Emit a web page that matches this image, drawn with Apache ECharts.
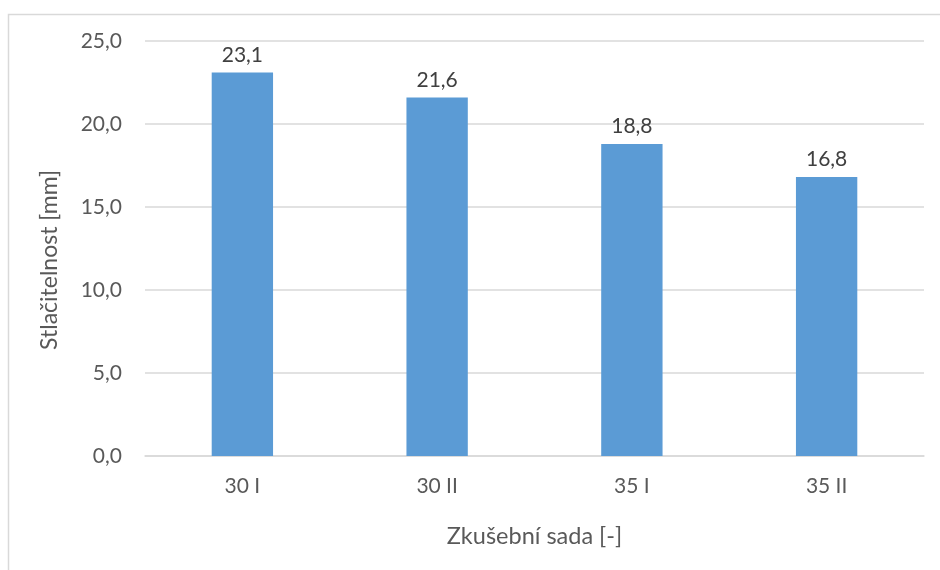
<!DOCTYPE html>
<html>
<head>
<meta charset="utf-8">
<script src="https://cdn.jsdelivr.net/npm/echarts@6/dist/echarts.min.js"></script>
<style>html,body{margin:0;padding:0;background:#fff}#c{width:940px;height:570px}</style>
</head>
<body>
<div id="c"></div>
<script>
var categories = ['30 I', '30 II', '35 I', '35 II'];
var values = [23.1, 21.6, 18.8, 16.8];
var yTicks = [0, 5, 10, 15, 20, 25];
var yTitle = 'Stlačitelnost [mm]';
var xTitle = 'Zkušební sada [-]';

var fmt = function (v) { return v.toFixed(1).replace('.', ','); };
var font = 'Lato';
var chart = echarts.init(document.getElementById('c'), null, {renderer: 'canvas'});
chart.setOption({
  animation: false,
  backgroundColor: '#fff',
  graphic: [{
    type: 'rect', left: 6, top: 12,
    shape: {width: 960, height: 600},
    style: {fill: 'none', stroke: '#d9d9d9', lineWidth: 1.5}
  }, {
    type: 'text', x: 50, y: 260, rotation: Math.PI / 2,
    style: {text: yTitle, fill: '#595959', fontSize: 23, fontFamily: font,
            align: 'center', verticalAlign: 'middle'}
  }],
  grid: {left: 145, right: 16, top: 41, bottom: 114, containLabel: false},
  xAxis: {
    type: 'category',
    data: categories,
    axisTick: {show: false},
    axisLine: {lineStyle: {color: '#d9d9d9', width: 1.5}},
    axisLabel: {color: '#595959', fontSize: 21, fontFamily: font, margin: 20},
    name: xTitle,
    nameLocation: 'middle',
    nameGap: 68,
    nameTextStyle: {color: '#595959', fontSize: 23.5, fontFamily: font}
  },
  yAxis: {
    type: 'value',
    min: yTicks[0], max: yTicks[yTicks.length - 1], interval: 5,
    axisLine: {show: false},
    axisTick: {show: false},
    splitLine: {lineStyle: {color: '#d9d9d9', width: 1.5}},
    axisLabel: {color: '#595959', fontSize: 21, fontFamily: font, margin: 23, formatter: fmt}
  },
  series: [{
    type: 'bar',
    data: values,
    barWidth: '31.5%',
    itemStyle: {color: '#5b9bd5'},
    label: {
      show: true, position: 'top', distance: 7,
      color: '#404040', fontSize: 21, fontFamily: font,
      formatter: function (p) { return fmt(p.value); }
    }
  }]
});
</script>
</body>
</html>
